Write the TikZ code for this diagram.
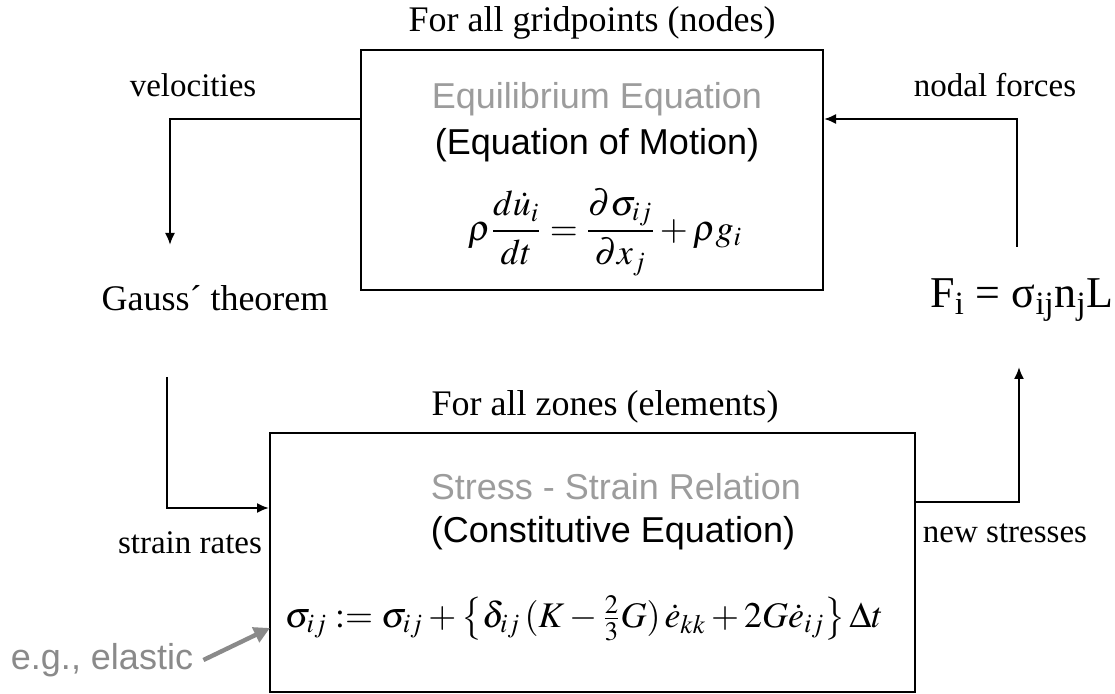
\documentclass[tikz,border=0pt]{standalone}
\usepackage{mathptmx}
\usepackage{fontspec}
\setmainfont{Liberation Serif}
\setsansfont{Liberation Sans}
\usepackage{amsmath}
\usetikzlibrary{arrows.meta,positioning}
\definecolor{headgray}{HTML}{9C9C9C}
\definecolor{notegray}{HTML}{8A8A8A}

\begin{document}
\begin{tikzpicture}[
  x=0.5pt, y=-0.5pt,
  every node/.style={inner sep=0pt, font=\fontsize{18}{21}\selectfont},
  box/.style={draw, line width=1pt},
  side/.style={font=\fontsize{16.5}{19}\selectfont},
  boxhead/.style={font=\sffamily\fontsize{18}{21}\selectfont, text=headgray},
  boxsub/.style={font=\sffamily\fontsize{18}{21}\selectfont},
  flow/.style={draw, line width=1pt, -{Latex[length=6pt,width=5pt]}},
  pointer/.style={draw=notegray, line width=2.2pt, -{Triangle[length=8pt,width=8pt]}}
]
\useasboundingbox (0,0) rectangle (1115,694);

% upper box: gridpoints
\node[box, minimum width=231pt, minimum height=120pt] (eqbox) at (592,170) {};
\node (nodestitle) at (592,23) {For all gridpoints (nodes)};
\node[boxhead] (eqhead) at (597,99) {Equilibrium Equation};
\node[boxsub] (eqsub) at (597,145) {(Equation of Motion)};
\node (eqmath) at (605,232) {$\displaystyle \rho\frac{d\dot u_i}{dt}=\frac{\partial\sigma_{ij}}{\partial x_j}+\rho g_i$};

% lower box: zones
\node[box, minimum width=322.5pt, minimum height=129.5pt] (zonebox) at (592.5,562.5) {};
\node (zonestitle) at (605,407) {For all zones (elements)};
\node[boxhead] (zonehead) at (616,487) {Stress - Strain Relation};
\node[boxsub] (zonesub) at (613,533) {(Constitutive Equation)};
\node (zonemath) at (584,618) {$\sigma_{ij} := \sigma_{ij} + \left\{\delta_{ij}\,(K - \tfrac{2}{3}G)\,\dot e_{kk} + 2G\dot e_{ij}\right\}\Delta t$};

% side labels
\node[side] (vel) at (193,85) {velocities};
\node (gauss) at (215,298) {Gauss´ theorem};
\node[side] (rates) at (190,543) {strain rates};
\node[side] (stresses) at (1005,533) {new stresses};
\node (force) at (1022,300) {\fontsize{22}{26}\selectfont F\textsubscript{i} = σ\textsubscript{ij}n\textsubscript{j}L};
\node[side] (nodal) at (995,85) {nodal forces};
\node[boxhead, text=notegray] (elastic) at (102,660) {e.g., elastic};

% loop
\coordinate (v1) at (170,119);
\coordinate (v2) at (170,245);
\coordinate (s1) at (167,377);
\coordinate (s2) at (167,508);
\coordinate (n1) at (1019,502);
\coordinate (n2) at (1019,367);
\coordinate (f1) at (1017,247);
\coordinate (f2) at (1017,119);
\coordinate (e1) at (270,628);
\draw[flow] (eqbox.west |- v1) -- (v1) -- (v2);
\draw[flow] (s1) -- (s2) -- (s2 -| zonebox.west);
\draw[flow] (zonebox.east |- n1) -- (n1) -- (n2);
\draw[flow] (f1) -- (f2) -- (f2 -| eqbox.east);
\draw[pointer] ([xshift=5pt]elastic.east) -- (e1);
\end{tikzpicture}
\end{document}
